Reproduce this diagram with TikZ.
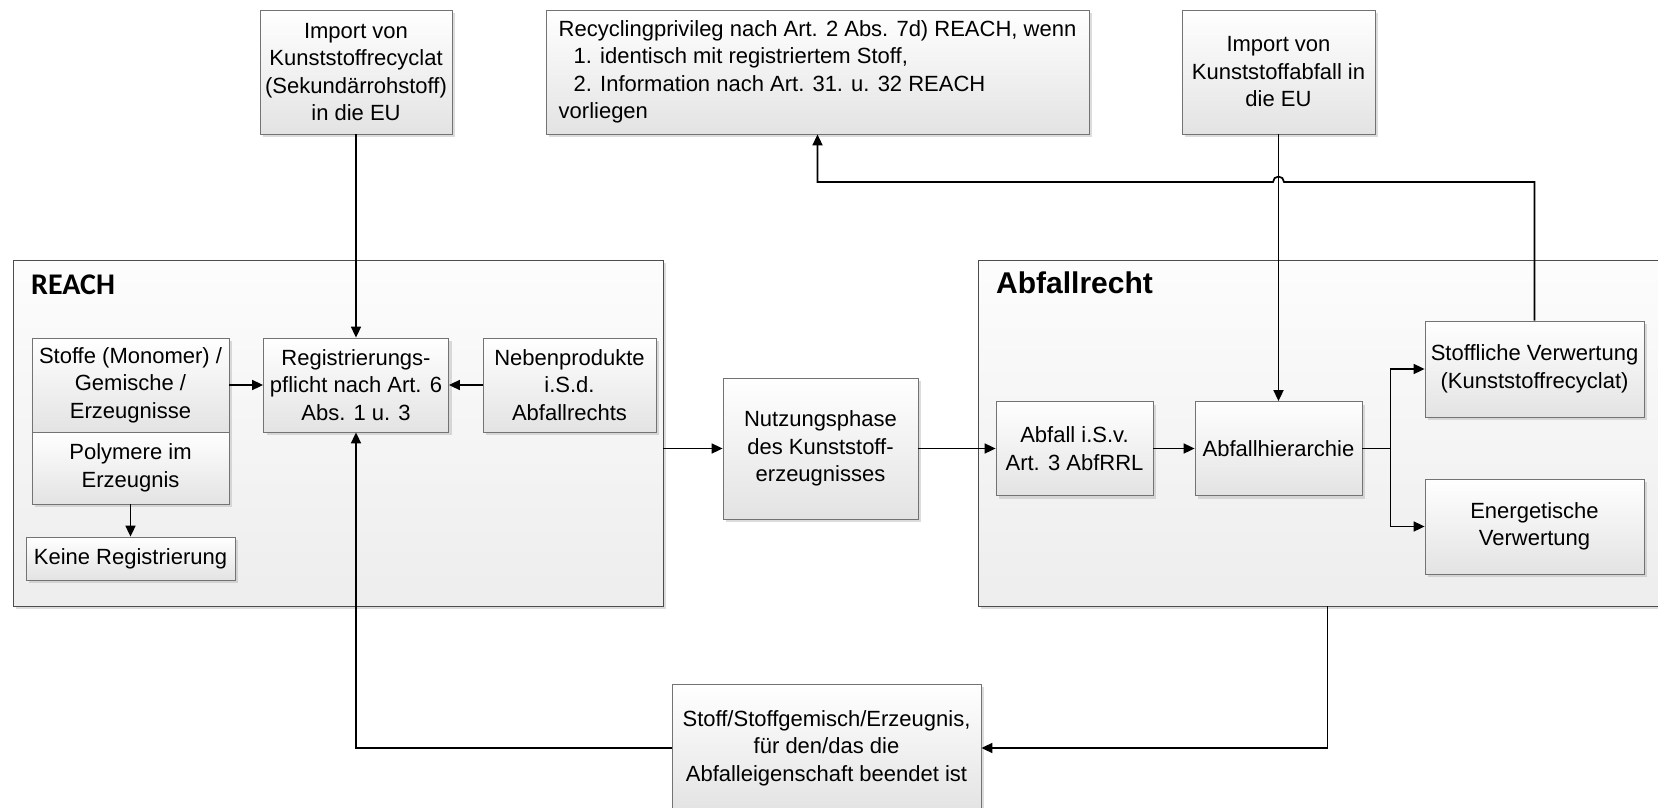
\documentclass[tikz,border=0pt]{standalone}
\usepackage{fontspec}
\setmainfont{Liberation Sans}
\newfontfamily\carlitofont{Carlito}
\usetikzlibrary{arrows.meta,shadows}
\begin{document}
\begin{tikzpicture}[x=1pt,y=-1pt,
  box/.style={draw=black!55, line width=0.8pt, top color=white, bottom color=black!11,
    drop shadow={shadow xshift=3pt, shadow yshift=-3pt, fill=black!30, opacity=0.45},
    inner sep=3pt, align=center, font=\fontsize{22}{27.5}\selectfont},
  container/.style={draw=black!70, line width=0.9pt, top color=black!1, bottom color=black!7,
    drop shadow={shadow xshift=3pt, shadow yshift=-3pt, fill=black!30, opacity=0.45}, inner sep=0pt},
  conn/.style={line width=1.7pt, -{Triangle[length=11pt,width=10pt]}},
  plain/.style={line width=1.7pt}
]
\clip (0,0) rectangle (1658,808);
\fill[white] (0,0) rectangle (1658,808);

% containers
\node[container, minimum width=650, minimum height=346] (reach) at (338,433) {};
\node[container, minimum width=722, minimum height=346] (abfr) at (1339,433) {};
\node[anchor=base west, inner sep=0pt, font=\carlitofont\bfseries\fontsize{30}{32}\selectfont] (reachlbl) at (31,294) {REACH};
\node[anchor=base west, inner sep=0pt, font=\bfseries\fontsize{30}{32}\selectfont] (abfrlbl) at (996,293) {Abfallrecht};

% top boxes
\node[box, minimum width=192, minimum height=124] (imp1) at (356,72) {Import von\\Kunststoffrecyclat\\(Sekundärrohstoff)\\in die EU};
\node[box, minimum width=543, minimum height=124, align=left] (recp) at (817.5,72) {Recyclingprivileg nach Art. 2 Abs. 7d) REACH, wenn\\\hspace*{15pt}1. identisch mit registriertem Stoff,\\\hspace*{15pt}2. Information nach Art. 31. u. 32 REACH\\vorliegen};
\node[box, minimum width=193, minimum height=124] (imp2) at (1278.5,72) {Import von\\Kunststoffabfall in\\die EU};

% REACH boxes
\node[box, minimum width=197, minimum height=94] (stoffe) at (130.5,385) {Stoffe (Monomer) /\\Gemische /\\Erzeugnisse};
\node[box, minimum width=197, minimum height=72] (poly) at (130.5,468) {Polymere im\\Erzeugnis};
\node[box, minimum width=209, minimum height=43] (keine) at (130.5,558.5) {Keine Registrierung};
\node[box, minimum width=185, minimum height=94] (reg) at (356,385) {Registrierungs-\\pflicht nach Art. 6\\Abs. 1 u. 3};
\node[box, minimum width=173, minimum height=94] (neben) at (569.5,385) {Nebenprodukte\\i.S.d.\\Abfallrechts};

% middle
\node[box, minimum width=195, minimum height=141] (nutz) at (820.5,448.5) {Nutzungsphase\\des Kunststoff-\\erzeugnisses};

% Abfallrecht boxes
\node[box, minimum width=157, minimum height=94] (abf) at (1074.5,448.5) {Abfall i.S.v.\\Art. 3 AbfRRL};
\node[box, minimum width=167, minimum height=94] (hier) at (1278.5,448.5) {Abfallhierarchie};
\node[box, minimum width=219, minimum height=96] (stoffl) at (1534.5,369) {Stoffliche Verwertung\\(Kunststoffrecyclat)};
\node[box, minimum width=219, minimum height=95] (energ) at (1534.5,526.5) {Energetische\\Verwertung};

% bottom
\node[box, minimum width=309, minimum height=128] (ende) at (826.5,748) {Stoff/Stoffgemisch/Erzeugnis,\\für den/das die\\Abfalleigenschaft beendet ist};

% helper coordinates
\coordinate (jn) at (1390.5,448.5);
\coordinate (topline) at (0,182);
\coordinate (exitx) at (1327.5,0);

% connectors
\draw[conn] (imp1.south) -- (reg.north);
\draw[conn] (stoffe.east) -- (reg.west);
\draw[conn] (neben.west) -- (reg.east);
\draw[conn] (poly.south) -- (keine.north);
\draw[conn] (reach.east |- nutz.west) -- (nutz.west);
\draw[conn] (nutz.east) -- (abf.west);
\draw[conn] (abf.east) -- (hier.west);
\draw[plain] (hier.east) -- (jn);
\draw[conn] (jn) |- (stoffl.west);
\draw[conn] (jn) |- (energ.west);
\draw[conn] (imp2.south) -- (hier.north);
\draw[conn] (stoffl.north) -- (stoffl.north |- topline) -- (1284,182) arc[start angle=0, end angle=-180, radius=5.5] -- (recp.south |- topline) -- (recp.south);
\draw[conn] (abfr.south -| exitx) |- (ende.east);
\draw[conn] (ende.west) -| (reg.south);
\end{tikzpicture}
\end{document}
